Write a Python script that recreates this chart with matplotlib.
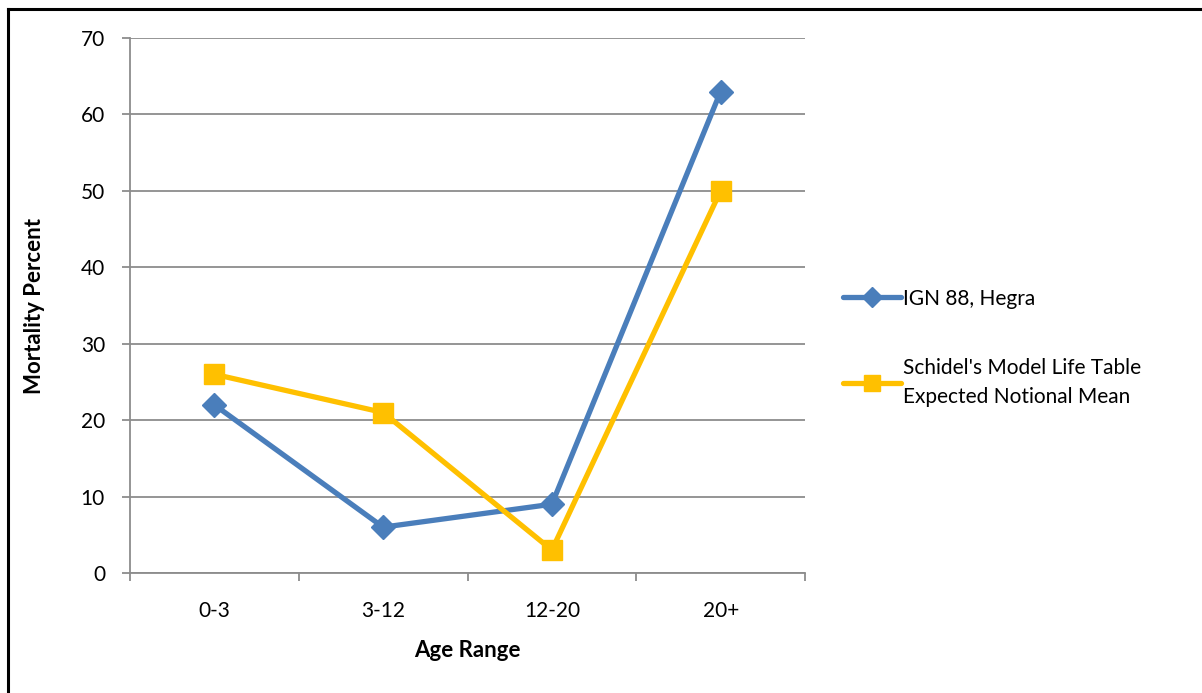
import matplotlib
matplotlib.use("Agg")
import matplotlib.pyplot as plt
from matplotlib.lines import Line2D
import numpy as np

categories = ["0-3", "3-12", "12-20", "20+"]
ign_values = [22, 6, 9, 63]
schidel_values = [26, 21, 3, 50]
series_names = ["IGN 88, Hegra", "Schidel's Model Life Table\nExpected Notional Mean"]
y_ticks = [0, 10, 20, 30, 40, 50, 60, 70]

plt.rcParams['font.family'] = ['Lato', 'DejaVu Sans']

W, H = 1202, 693
fig = plt.figure(figsize=(W / 100, H / 100), dpi=100)
fig.patch.set_facecolor('white')

ax = fig.add_axes([130 / W, 1 - 573 / H, (805 - 130) / W, (573 - 38) / H])

blue = '#4a7ebb'
gold = '#ffc000'
grid_c = '#8c8c8c'
fs = 15

x = np.arange(len(categories))
l1, = ax.plot(x, ign_values, color=blue, lw=3.8, marker='D', markersize=12,
              solid_capstyle='round', zorder=3)
l2, = ax.plot(x, schidel_values, color=gold, lw=3.8, marker='s', markersize=14,
              solid_capstyle='round', zorder=4)

ax.set_xlim(-0.5, len(categories) - 0.5)
ax.set_ylim(0, 70)
ax.set_yticks(y_ticks)
ax.set_yticklabels([str(v) for v in y_ticks], fontsize=fs)
ax.yaxis.grid(True, color=grid_c, lw=1.3)
ax.set_axisbelow(True)

ax.set_xticks(np.arange(len(categories) + 1) - 0.5)
ax.set_xticklabels([])
ax.set_xticks(x, minor=True)
ax.set_xticklabels(categories, minor=True, fontsize=fs)
ax.tick_params(axis='x', which='major', direction='out', length=6, width=1.3, color=grid_c)
ax.tick_params(axis='x', which='minor', length=0, pad=20)
ax.tick_params(axis='y', direction='out', length=6, width=1.3, color=grid_c, pad=12)

for s in ['top', 'right']:
    ax.spines[s].set_visible(False)
for s in ['left', 'bottom']:
    ax.spines[s].set_color(grid_c)
    ax.spines[s].set_linewidth(1.3)

ax.set_xlabel("Age Range", fontsize=16, fontweight='bold', labelpad=14)
ax.set_ylabel("Mortality Percent", fontsize=16, fontweight='bold', labelpad=26)

leg = fig.legend([l1, l2], series_names, loc='upper left',
                 bbox_to_anchor=(824 / W, 1 - 270 / H), frameon=False,
                 fontsize=fs, handlelength=2.8, handletextpad=0.1,
                 labelspacing=2.35, markerscale=0.85)
for t in leg.get_texts():
    t.set_linespacing(1.6)

# outer frame (left and top edges)
fig.add_artist(Line2D([8 / W, 8 / W], [0, 1 - 8.5 / H], color='black', lw=2.2,
                      transform=fig.transFigure))
fig.add_artist(Line2D([8 / W, 1], [1 - 8.5 / H, 1 - 8.5 / H], color='black', lw=2.2,
                      transform=fig.transFigure))

fig.savefig("out.png", dpi=100, facecolor='white')
